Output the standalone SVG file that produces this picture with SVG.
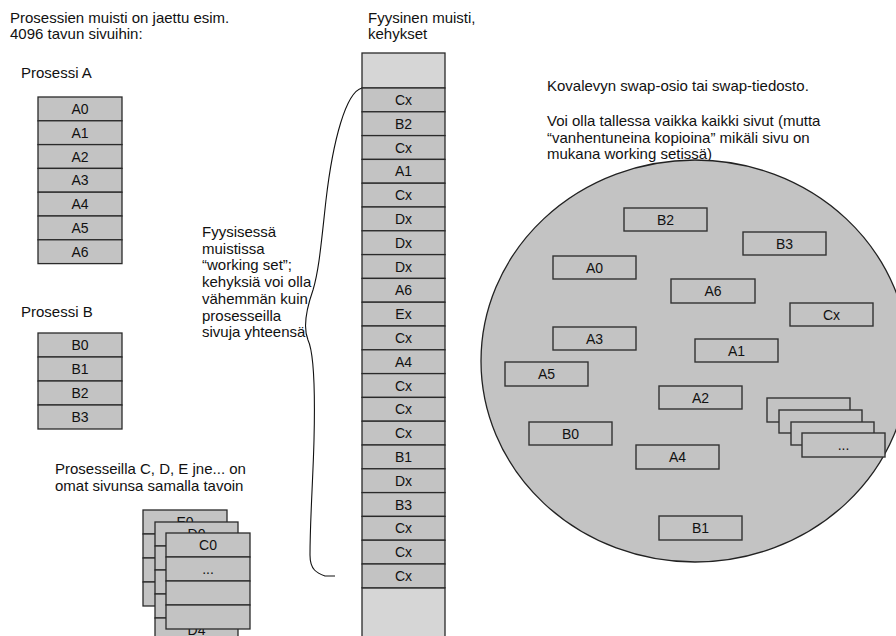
<svg xmlns="http://www.w3.org/2000/svg" width="896" height="636" viewBox="0 0 896 636">
<style>
text{font-family:"Liberation Sans",Arial,sans-serif;fill:#111}
.t{font-size:15px}
.b{font-size:14px;text-anchor:middle}
.box{fill:#c3c3c3;stroke:#2a2a2a;stroke-width:1.3}
.lt{fill:#d6d6d6;stroke:#2a2a2a;stroke-width:1.3}
.dk{fill:#c3c3c3;stroke:#333;stroke-width:1.4}
</style>
<rect width="896" height="636" fill="#fff"/>

<g id="labels">
<text class="t" x="10" y="22.5">Prosessien muisti on jaettu esim.</text>
<text class="t" x="10" y="39">4096 tavun sivuihin:</text>
<text class="t" x="21" y="78">Prosessi A</text>
<text class="t" x="21" y="317">Prosessi B</text>
<text class="t" x="368" y="22.5">Fyysinen muisti,</text>
<text class="t" x="368" y="39">kehykset</text>
<text class="t" x="55" y="474">Prosesseilla C, D, E jne... on</text>
<text class="t" x="55" y="491">omat sivunsa samalla tavoin</text>
<text class="t" x="547" y="91">Kovalevyn swap-osio tai swap-tiedosto.</text>
<text class="t" x="547" y="126">Voi olla tallessa vaikka kaikki sivut (mutta</text>
<text class="t" x="547" y="142.5">“vanhentuneina kopioina” mikäli sivu on</text>
<text class="t" x="547" y="159">mukana working setissä)</text>
</g>

<g id="disk">
<ellipse cx="695" cy="361" rx="214" ry="201" fill="#c3c3c3" stroke="#222" stroke-width="1.3"/>
</g>

<g id="working-set-note">
<text class="t" x="202" y="237">Fyysisessä</text>
<text class="t" x="202" y="253.7">muistissa</text>
<text class="t" x="202" y="270.4">“working set”;</text>
<text class="t" x="202" y="287">kehyksiä voi olla</text>
<text class="t" x="202" y="303.8">vähemmän kuin</text>
<text class="t" x="202" y="320.5">prosesseilla</text>
<text class="t" x="202" y="337">sivuja yhteensä</text>
</g>

<g id="connectors">
<path d="M362,88 C346,92 333,140 326,200 C321,245 319,270 313,290 C306,310 303,328 308,340 C315,355 315,400 314,440 C313,480 310,520 310,555 C310,570 317,573 325,576 L335,576" fill="none" stroke="#111" stroke-width="1.1"/>
</g>

<g id="process-a">
<rect class="box" x="38" y="97" width="84" height="23.8"/><text class="b" x="80" y="114">A0</text>
<rect class="box" x="38" y="120.8" width="84" height="23.8"/><text class="b" x="80" y="137.8">A1</text>
<rect class="box" x="38" y="144.6" width="84" height="23.8"/><text class="b" x="80" y="161.6">A2</text>
<rect class="box" x="38" y="168.4" width="84" height="23.8"/><text class="b" x="80" y="185.4">A3</text>
<rect class="box" x="38" y="192.2" width="84" height="23.8"/><text class="b" x="80" y="209.2">A4</text>
<rect class="box" x="38" y="216" width="84" height="23.8"/><text class="b" x="80" y="233">A5</text>
<rect class="box" x="38" y="239.8" width="84" height="23.8"/><text class="b" x="80" y="256.8">A6</text>
</g>

<g id="process-b">
<rect class="box" x="38" y="333" width="84" height="24"/><text class="b" x="80" y="350">B0</text>
<rect class="box" x="38" y="357" width="84" height="24"/><text class="b" x="80" y="374">B1</text>
<rect class="box" x="38" y="381" width="84" height="24"/><text class="b" x="80" y="398">B2</text>
<rect class="box" x="38" y="405" width="84" height="24"/><text class="b" x="80" y="422">B3</text>
</g>

<g id="process-e">
<rect class="box" x="143" y="510" width="84" height="24"/><text class="b" x="185" y="527">E0</text>
<rect class="box" x="143" y="534" width="84" height="24"/>
<rect class="box" x="143" y="558" width="84" height="24"/>
<rect class="box" x="143" y="582" width="84" height="24"/>
</g>
<g id="process-d">
<rect class="box" x="155" y="522" width="83" height="24"/><text class="b" x="196.5" y="539">D0</text>
<rect class="box" x="155" y="546" width="83" height="24"/>
<rect class="box" x="155" y="570" width="83" height="24"/>
<rect class="box" x="155" y="594" width="83" height="24"/>
<rect class="box" x="155" y="618" width="83" height="24"/><text class="b" x="196.5" y="635">D4</text>
</g>
<g id="process-c">
<rect class="box" x="166" y="533" width="84" height="24"/><text class="b" x="208" y="550">C0</text>
<rect class="box" x="166" y="557" width="84" height="24"/><text class="b" x="208" y="574">...</text>
<rect class="box" x="166" y="581" width="84" height="24"/>
<rect class="box" x="166" y="605" width="84" height="24"/>
</g>

<g id="physical-memory">
<rect class="lt" x="362" y="53" width="83" height="35"/>
<rect class="lt" x="362" y="587.8" width="83" height="60"/>
<rect class="box" x="362" y="88" width="83" height="23.8"/><text class="b" x="403.5" y="104.9">Cx</text>
<rect class="box" x="362" y="111.8" width="83" height="23.8"/><text class="b" x="403.5" y="128.7">B2</text>
<rect class="box" x="362" y="135.6" width="83" height="23.8"/><text class="b" x="403.5" y="152.5">Cx</text>
<rect class="box" x="362" y="159.4" width="83" height="23.8"/><text class="b" x="403.5" y="176.3">A1</text>
<rect class="box" x="362" y="183.2" width="83" height="23.8"/><text class="b" x="403.5" y="200.1">Cx</text>
<rect class="box" x="362" y="207" width="83" height="23.8"/><text class="b" x="403.5" y="223.9">Dx</text>
<rect class="box" x="362" y="230.8" width="83" height="23.8"/><text class="b" x="403.5" y="247.7">Dx</text>
<rect class="box" x="362" y="254.6" width="83" height="23.8"/><text class="b" x="403.5" y="271.5">Dx</text>
<rect class="box" x="362" y="278.4" width="83" height="23.8"/><text class="b" x="403.5" y="295.3">A6</text>
<rect class="box" x="362" y="302.2" width="83" height="23.8"/><text class="b" x="403.5" y="319.1">Ex</text>
<rect class="box" x="362" y="326" width="83" height="23.8"/><text class="b" x="403.5" y="342.9">Cx</text>
<rect class="box" x="362" y="349.8" width="83" height="23.8"/><text class="b" x="403.5" y="366.7">A4</text>
<rect class="box" x="362" y="373.6" width="83" height="23.8"/><text class="b" x="403.5" y="390.5">Cx</text>
<rect class="box" x="362" y="397.4" width="83" height="23.8"/><text class="b" x="403.5" y="414.3">Cx</text>
<rect class="box" x="362" y="421.2" width="83" height="23.8"/><text class="b" x="403.5" y="438.1">Cx</text>
<rect class="box" x="362" y="445" width="83" height="23.8"/><text class="b" x="403.5" y="461.9">B1</text>
<rect class="box" x="362" y="468.8" width="83" height="23.8"/><text class="b" x="403.5" y="485.7">Dx</text>
<rect class="box" x="362" y="492.6" width="83" height="23.8"/><text class="b" x="403.5" y="509.5">B3</text>
<rect class="box" x="362" y="516.4" width="83" height="23.8"/><text class="b" x="403.5" y="533.3">Cx</text>
<rect class="box" x="362" y="540.2" width="83" height="23.8"/><text class="b" x="403.5" y="557.1">Cx</text>
<rect class="box" x="362" y="564" width="83" height="23.8"/><text class="b" x="403.5" y="580.9">Cx</text>
</g>

<g id="swap-pages">
<g id="swap-b2"><rect class="dk" x="624" y="208" width="83" height="23"/><text class="b" x="665.5" y="224.5">B2</text></g>
<g id="swap-b3"><rect class="dk" x="743" y="232" width="83" height="23"/><text class="b" x="784.5" y="248.5">B3</text></g>
<g id="swap-a0"><rect class="dk" x="553" y="256" width="83" height="23"/><text class="b" x="594.5" y="272.5">A0</text></g>
<g id="swap-a6"><rect class="dk" x="671" y="279" width="84" height="24"/><text class="b" x="713" y="296">A6</text></g>
<g id="swap-cx"><rect class="dk" x="790" y="303" width="83" height="23"/><text class="b" x="831.5" y="319.5">Cx</text></g>
<g id="swap-a3"><rect class="dk" x="553" y="327" width="83" height="23"/><text class="b" x="594.5" y="343.5">A3</text></g>
<g id="swap-a1"><rect class="dk" x="695" y="339" width="83" height="23"/><text class="b" x="736.5" y="355.5">A1</text></g>
<g id="swap-a5"><rect class="dk" x="505" y="362" width="83" height="24"/><text class="b" x="546.5" y="379">A5</text></g>
<g id="swap-a2"><rect class="dk" x="659" y="386" width="83" height="23"/><text class="b" x="700.5" y="402.5">A2</text></g>
<g id="swap-b0"><rect class="dk" x="529" y="422" width="83" height="23"/><text class="b" x="570.5" y="438.5">B0</text></g>
<g id="swap-a4"><rect class="dk" x="636" y="445" width="83" height="24"/><text class="b" x="677.5" y="462">A4</text></g>
<g id="swap-b1"><rect class="dk" x="659" y="516" width="83" height="24"/><text class="b" x="700.5" y="533">B1</text></g>
<g id="swap-more">
<rect class="dk" x="767" y="398" width="83" height="24"/>
<rect class="dk" x="779" y="410" width="83" height="23"/>
<rect class="dk" x="791" y="422" width="83" height="23"/>
<rect class="dk" x="802" y="433" width="83" height="24"/><text class="b" x="843.5" y="450">...</text>
</g>
</g>
</svg>
